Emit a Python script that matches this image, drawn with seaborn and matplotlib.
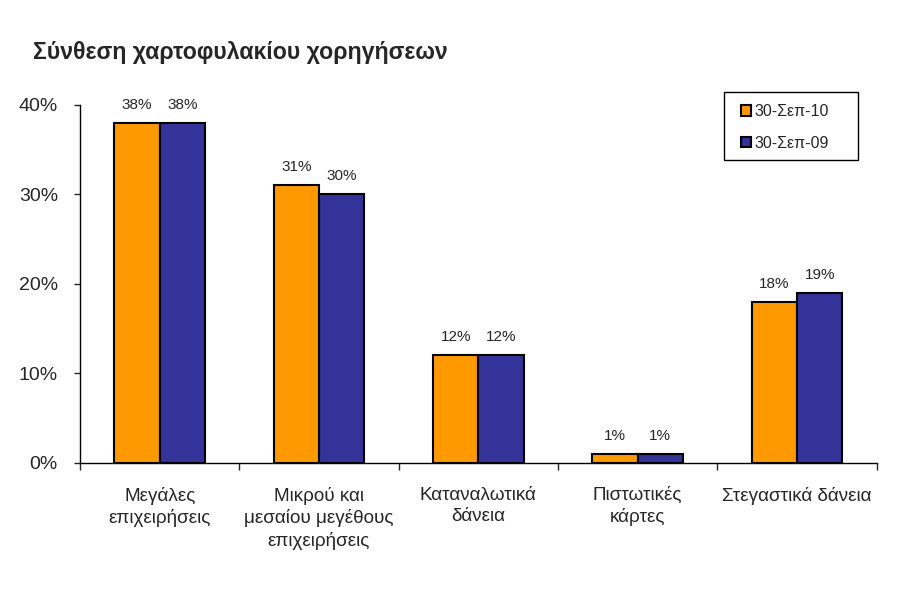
import matplotlib
matplotlib.use('Agg')
import matplotlib.pyplot as plt
import seaborn as sns
import pandas as pd
from matplotlib.patches import Rectangle
from matplotlib.ticker import FixedLocator, PercentFormatter

categories = ['Μεγάλες\nεπιχειρήσεις', 'Μικρού και\nμεσαίου μεγέθους\nεπιχειρήσεις',
              'Καταναλωτικά\nδάνεια', 'Πιστωτικές\nκάρτες', 'Στεγαστικά δάνεια']
series_names = ['30-Σεπ-10', '30-Σεπ-09']
sep10 = [38, 31, 12, 1, 18]
sep09 = [38, 30, 12, 1, 19]
colors = ['#FF9900', '#333399']


def main():
    sns.set_style('white')
    plt.rcParams['font.family'] = ['Liberation Sans', 'DejaVu Sans']

    df = pd.DataFrame({
        'category': categories * 2,
        'series': [series_names[0]] * 5 + [series_names[1]] * 5,
        'value': [v / 100 for v in sep10 + sep09],
    })

    fig = plt.figure(figsize=(9, 6.02), dpi=100)
    ax = fig.add_axes([0.089, 0.231, 0.885, 0.595])

    sns.barplot(data=df, x='category', y='value', hue='series', palette=colors,
                width=0.57, gap=0, edgecolor='black', linewidth=1.5, ax=ax,
                saturation=1)

    # ラベル
    for cont in ax.containers:
        ax.bar_label(cont, labels=[f'{v * 100:.0f}%' for v in cont.datavalues],
                     padding=8, fontsize=11)

    ax.set_xlim(-0.5, 4.5)
    ax.set_ylim(0, 0.4)
    ax.yaxis.set_major_locator(FixedLocator([0, 0.1, 0.2, 0.3, 0.4]))
    ax.yaxis.set_major_formatter(PercentFormatter(1.0, decimals=0))
    ax.tick_params(axis='y', length=4, width=1, labelsize=14, left=True, pad=12)
    ax.tick_params(axis='x', which='major', length=0, labelsize=13.6, pad=17)
    for lbl in ax.get_xticklabels():
        lbl.set_linespacing(1.33)
    ax.xaxis.set_minor_locator(FixedLocator([-0.5, 0.5, 1.5, 2.5, 3.5, 4.5]))
    ax.tick_params(axis='x', which='minor', length=5, width=1, bottom=True)
    ax.set_xlabel('')
    ax.set_ylabel('')
    for s in ['top', 'right']:
        ax.spines[s].set_visible(False)
    for s in ['left', 'bottom']:
        ax.spines[s].set_color('black')
        ax.spines[s].set_linewidth(1)

    # 凡例
    fig.patches.append(Rectangle((724 / 900, 1 - 160 / 602), 134 / 900, 68 / 602,
                                 transform=fig.transFigure, fill=False,
                                 edgecolor='black', linewidth=1))
    ax.legend(loc='upper left', bbox_to_anchor=(741 / 900, 1 - 104 / 602),
              bbox_transform=fig.transFigure, frameon=False,
              fontsize=11.5, handlelength=0.62, handleheight=0.62, handletextpad=0.2,
              labelspacing=1.05, borderpad=0, borderaxespad=0)

    fig.text(33 / 900, 1 - 52 / 602, 'Σύνθεση χαρτοφυλακίου χορηγήσεων',
             fontsize=16.7, fontweight='bold', va='center', ha='left')

    plt.savefig('out.png', dpi=100)


if __name__ == '__main__':
    main()
